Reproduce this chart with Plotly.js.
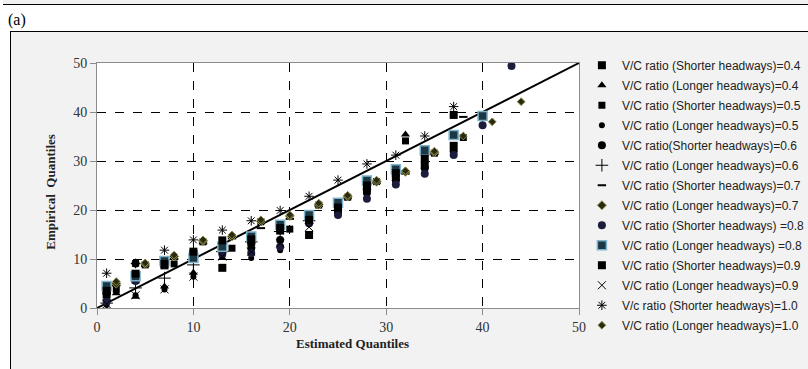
<!DOCTYPE html>
<html><head><meta charset="utf-8">
<script src="https://cdn.plot.ly/plotly-3.0.1.min.js"></script>
<style>
body{margin:0;background:#fff;width:808px;height:369px;overflow:hidden;position:relative;}
#topstrip{position:absolute;left:3px;top:0;width:805px;height:4px;background:#f0f0f0;border-bottom:1.5px solid #000;}
#label{position:absolute;left:8px;top:10px;font-family:'Liberation Serif',serif;font-size:16px;line-height:20px;}
#frame{position:absolute;left:10px;top:31px;width:820px;height:360px;background:#f2f2f2;border-left:1.5px solid #000;border-top:1.5px solid #000;}
#chart{position:absolute;left:0;top:0;width:808px;height:369px;}
</style></head>
<body>
<div id="topstrip"></div>
<div id="label">(a)</div>
<div id="frame"></div>
<div id="chart"></div>
<script>
// Estimated quantiles (x) and empirical quantiles (y) per series
const xS04 = [1,4,7,10,13,16,19,22,25,28,31,34,37];
const yS04 = [2.8,5.8,8.7,11.0,8.2,13.5,15.8,14.9,20.0,24.5,26.7,29.2,33.1];
const xL04 = [1,2,4,7,10,13,16,19,22,25,28,32];
const yL04 = [2.0,3.0,2.3,4.4,7.2,10.2,13.6,15.9,17.6,20.4,24.6,35.4];
const xS05 = [2,5,8,11,14,17,20,23,26,29,32,35,38];
const yS05 = [3.8,8.8,9.0,13.5,12.2,17.6,16.1,21.0,22.6,25.8,34.1,31.6,34.8];
const xL05 = [1,4,7,10,13,16,19];
const yL05 = [0.6,2.6,3.8,6.4,10.5,10.2,11.8];
const xS06 = [1,4,7,10,13,16,19,22,25,28,31,34,37];
const yS06 = [3.0,9.1,9.2,10.5,12.0,12.2,13.9,17.3,19.6,23.5,26.0,28.5,32.0];
const xL06 = [1,4,7,10,13,16,19,22];
const yL06 = [1.0,4.1,6.1,8.8,11.5,13.5,15.6,17.8];
const xS07 = [2,5,8,11,14,17,20,23,26,29,32,35,38];
const yS07 = [4.6,8.6,10.0,13.2,14.2,16.3,18.2,20.8,22.4,25.5,27.4,31.4,39.0];
const xL07 = [2,5,8,11,14,17,20,23,26,29,32,35];
const yL07 = [5.0,9.0,10.5,13.7,14.6,17.7,18.8,21.1,22.8,25.8,27.8,31.8];
const xS08 = [1,4,7,10,13,16,19,22,25,28,31,34,37,40,43];
const yS08 = [1.3,5.5,8.9,10.8,11.0,11.2,12.5,17.5,19.0,22.3,25.2,27.4,31.2,37.3,49.4];
const xL08 = [1,4,7,10,13,16,19,22,25,28,31,34,37,40];
const yL08 = [4.5,6.5,9.6,10.2,12.5,14.6,17.0,19.0,21.5,26.0,28.3,32.2,35.3,39.2];
const xS09 = [1,4,7,10,13,16,19,22,25,28,31,34,37];
const yS09 = [3.5,7.0,9.0,11.5,13.8,14.0,16.3,18.0,20.5,25.0,27.5,30.5,39.4];
const xL09 = [1,4,7,10,13,16,19,22];
const yL09 = [0.8,2.6,3.8,6.4,10.5,11.5,13.2,16.5];
const xS10 = [1,4,7,10,13,16,19,22,25,28,31,34,37];
const yS10 = [7.1,9.1,11.8,13.9,15.9,17.8,19.9,22.8,26.1,29.4,31.2,35.1,41.1];
const xL10 = [2,5,8,11,14,17,20,23,26,29,32,35,38,41,44];
const yL10 = [5.4,9.2,10.8,13.9,14.9,18.0,19.0,21.4,23.0,26.1,28.0,32.0,35.1,38.0,42.1];
const lineX = [0,50];
const lineY = [0,50];
const names = [
 "V/C ratio (Shorter headways)=0.4","V/C ratio (Longer headways)=0.4",
 "V/C ratio (Shorter headways)=0.5","V/C ratio (Longer headways)=0.5",
 "V/C ratio(Shorter headways)=0.6","V/C ratio (Longer headways)=0.6",
 "V/C ratio (Shorter headways)=0.7","V/C ratio (Longer headways)=0.7",
 "V/C ratio (Shorter headways) =0.8","V/C ratio (Longer headways) =0.8",
 "V/C ratio (Shorter headways)=0.9","V/C ratio (Longer headways)=0.9",
 "V/c ratio (Shorter headways)=1.0","V/C ratio (Longer headways)=1.0"];
const xs = [xS04,xL04,xS05,xL05,xS06,xL06,xS07,xL07,xS08,xL08,xS09,xL09,xS10,xL10];
const ys = [yS04,yL04,yS05,yL05,yS06,yL06,yS07,yL07,yS08,yL08,yS09,yL09,yS10,yL10];
const markers = [
 {symbol:'square',size:8,color:'#000'},
 {symbol:'triangle-up',size:8,color:'#000'},
 {symbol:'square',size:7,color:'#000'},
 {symbol:'circle',size:6,color:'#000'},
 {symbol:'circle',size:8,color:'#000'},
 {symbol:'cross-thin-open',size:9,color:'#000',line:{width:1,color:'#000'}},
 {symbol:'line-ew-open',size:6,color:'#000',line:{width:2,color:'#000'}},
 {symbol:'diamond',size:7,color:'#2a2a14',line:{width:1,color:'#9a9a50'}},
 {symbol:'circle',size:8,color:'#1c1c3c'},
 {symbol:'square',size:9,color:'#1d3845',line:{width:1.5,color:'#7fb3c9'}},
 {symbol:'square',size:8,color:'#000'},
 {symbol:'x-thin-open',size:8,color:'#000',line:{width:1,color:'#000'}},
 {symbol:'asterisk-open',size:8,color:'#000',line:{width:1,color:'#000'}},
 {symbol:'diamond',size:6,color:'#2a2a14',line:{width:1,color:'#8c8c48'}}
];
const traces = [{x:lineX,y:lineY,mode:'lines',line:{color:'#000',width:2},showlegend:false,hoverinfo:'skip'}];
for(let i=0;i<names.length;i++){
  traces.push({x:xs[i],y:ys[i],mode:'markers',type:'scatter',name:names[i],legendgroup:'g'+i,marker:markers[i]});
}
const axisCommon = {range:[0,50],dtick:10,showgrid:true,griddash:'dash',gridcolor:'#000',gridwidth:1,
  showline:true,linecolor:'#8c8c8c',linewidth:1,mirror:true,zeroline:false,ticks:'outside',ticklen:6,tickcolor:'#8c8c8c',
  tickfont:{family:'Liberation Serif',size:14,color:'#333'},fixedrange:true};
const layout = {
  width:808,height:369,margin:{l:97,r:229,t:63,b:61,autoexpand:false},
  paper_bgcolor:'rgba(0,0,0,0)',plot_bgcolor:'#fff',
  xaxis:Object.assign({},axisCommon),
  yaxis:Object.assign({},axisCommon),
  showlegend:true,
  legend:{x:1.006,xanchor:'left',y:1.05,yanchor:'top',bgcolor:'rgba(0,0,0,0)',maxheight:369,
    font:{family:'Liberation Sans',size:12,color:'#222'},tracegroupgap:1,traceorder:'grouped',itemclick:false},
  annotations:[
    {text:'<b>Estimated Quantiles</b>',xref:'paper',yref:'paper',x:0.53,y:-0.185,showarrow:false,
      font:{family:'Liberation Serif',size:13,color:'#222'}},
    {text:'<b>Empirical  Quantiles</b>',xref:'paper',yref:'paper',x:-0.118,y:0.473,showarrow:false,textangle:-90,
      font:{family:'Liberation Serif',size:13,color:'#222'}}
  ]
};
Plotly.newPlot('chart',traces,layout,{displayModeBar:false,staticPlot:true});
</script>
</body></html>
